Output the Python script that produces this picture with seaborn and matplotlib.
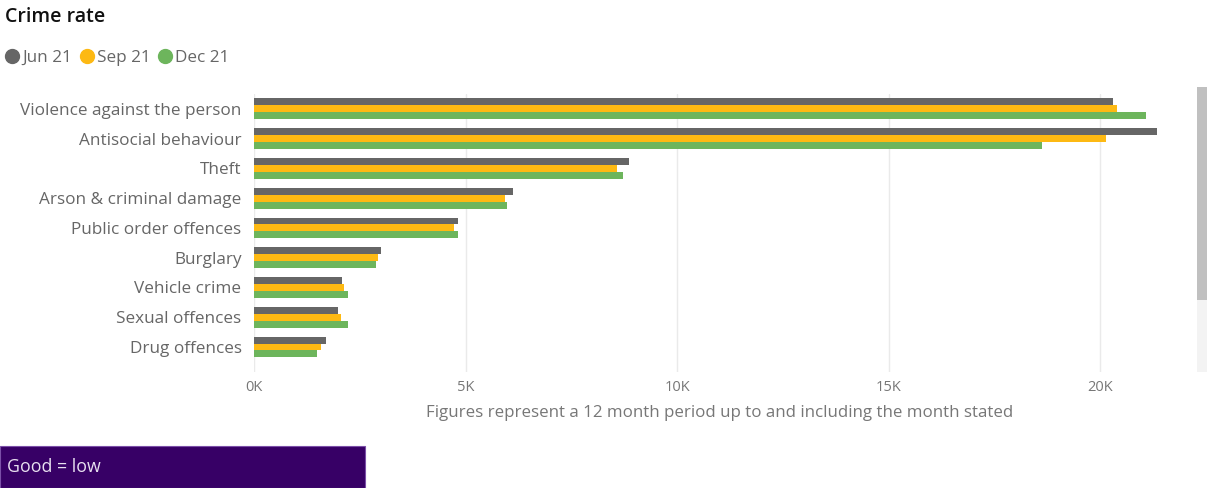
import matplotlib
matplotlib.use("Agg")
import matplotlib.pyplot as plt
from matplotlib.patches import Rectangle
from matplotlib.lines import Line2D
from matplotlib.ticker import FuncFormatter
import seaborn as sns
import pandas as pd

categories = ["Violence against the person", "Antisocial behaviour", "Theft",
              "Arson & criminal damage", "Public order offences", "Burglary",
              "Vehicle crime", "Sexual offences", "Drug offences"]
periods = ["Jun 21", "Sep 21", "Dec 21"]
jun21 = [20290, 21350, 8850, 6110, 4820, 2990, 2090, 1980, 1700]
sep21 = [20390, 20140, 8580, 5940, 4720, 2940, 2130, 2050, 1590]
dec21 = [21090, 18630, 8730, 5970, 4820, 2890, 2210, 2210, 1490]
colors = ["#666666", "#FDB913", "#6DB55C"]
x_ticks = [0, 5000, 10000, 15000, 20000]

rows = []
for p, vals in zip(periods, [jun21, sep21, dec21]):
    for c, v in zip(categories, vals):
        rows.append({"category": c, "period": p, "value": v})
df = pd.DataFrame(rows)

sns.set_theme(style="white")
plt.rcParams["font.family"] = ["Open Sans", "DejaVu Sans"]

fig = plt.figure(figsize=(12.08, 4.88), dpi=100)
ax = fig.add_axes([254 / 1208, 1 - 372 / 488, 931 / 1208, (372 - 94) / 488])

sns.barplot(data=df, x="value", y="category", hue="period", order=categories,
            hue_order=periods, palette=colors, orient="h", width=0.7,
            ax=ax, legend=False, saturation=1, edgecolor="none")

ax.set_xlim(0, 22000)
ax.set_ylim(8.84, -0.5)
ax.set_xticks(x_ticks)
ax.xaxis.set_major_formatter(FuncFormatter(lambda v, _: f"{int(v/1000)}K"))
ax.grid(axis="x", color="#EAEAEA", linewidth=1)
ax.set_axisbelow(True)
for s in ax.spines.values():
    s.set_visible(False)
ax.tick_params(axis="x", colors="#777777", labelsize=10.5, length=0, pad=6)
ax.tick_params(axis="y", colors="#666666", labelsize=12.3, length=0, pad=9)
ax.set_ylabel("")
ax.set_xlabel("Figures represent a 12 month period up to and including the month stated",
              color="#777777", fontsize=12.2, labelpad=7)

fig.text(5 / 1208, 1 - 17 / 488, "Crime rate", fontsize=14, fontweight="semibold",
         color="#111111", va="center", ha="left")

handles = [Line2D([], [], marker="o", linestyle="none", markersize=10,
                  markerfacecolor=c, markeredgecolor=c) for c in colors]
fig.legend(handles, periods, loc="center left", bbox_to_anchor=(6 / 1208, 1 - 58 / 488),
           ncol=3, frameon=False, handletextpad=0.25, columnspacing=0.5,
           fontsize=12.3, labelcolor="#666666", borderaxespad=0, handlelength=0.7,
           borderpad=0)

# scrollbar
fig.patches.append(Rectangle((1197 / 1208, 1 - 372 / 488), 10 / 1208, 285 / 488,
                             transform=fig.transFigure, facecolor="#F3F3F3", edgecolor="none"))
fig.patches.append(Rectangle((1197 / 1208, 1 - 300 / 488), 10 / 1208, 213 / 488,
                             transform=fig.transFigure, facecolor="#C0C0C0", edgecolor="none"))

# bottom box
fig.patches.append(Rectangle((0, 0), 365 / 1208, 42 / 488, transform=fig.transFigure,
                             facecolor="#370066", edgecolor="#7B4FA8", linewidth=0.8))
fig.text(7 / 1208, 21 / 488, "Good = low", color="#E8E0F0", fontsize=12.8,
         va="center", ha="left")

fig.savefig("out.png", dpi=100)
